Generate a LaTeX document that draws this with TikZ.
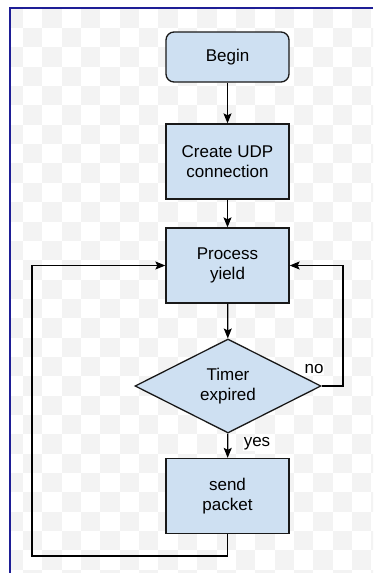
\documentclass[tikz,border=0pt]{standalone}
\usepackage{fontspec}
\setmainfont{Liberation Sans}
\usepackage{xcolor}
\usetikzlibrary{shapes.geometric,arrows.meta}

\definecolor{boxblue}{RGB}{206,224,242}
\definecolor{gridgray}{RGB}{243,243,243}
\definecolor{framenavy}{RGB}{30,30,150}

\tikzset{
  block/.style={draw=black!90, fill=boxblue, line width=1.3pt, minimum width=123pt,
    minimum height=75pt, align=center, inner sep=0pt},
  startbox/.style={block, rounded corners=8pt, minimum height=50pt},
  decision/.style={diamond, draw=black!90, fill=boxblue, line width=1.3pt, minimum width=186pt,
    minimum height=94pt, align=center, inner sep=0pt},
  arr/.style={line width=1.3pt, -{Stealth[length=10pt,width=8pt,inset=2pt]}},
  lbl/.style={fill=white, inner sep=1pt},
}

\begin{document}
\begin{tikzpicture}[x=1pt, y=-1pt, every node/.style={font=\fontsize{17}{20}\selectfont}]
                % sfondo
                \useasboundingbox (0,0) rectangle (373,573);
                \fill[white] (0,0) rectangle (373,573);
                \begin{scope}
                \clip (10,8) rectangle (373,573);
                \foreach \i in {0,...,19}
                  \foreach \j in {0,...,29}{
                    \pgfmathparse{int(mod(\i+\j,2))}
                    \ifnum\pgfmathresult=0
                      \fill[gridgray] ({3.65+\i*19.35},{8.65+\j*19.35}) rectangle ++(19.35,19.35);
                    \fi
                  }
                \end{scope}
                \draw[framenavy, line width=2pt] (10,573) -- (10,8) -- (373,8);

                % blocchi
                \node[startbox] (begin) at (227.5,57) {Begin};
                \node[block] (udp) at (227.5,161.5) {Create UDP\\connection};
                \node[block] (yield) at (227.5,265.5) {Process\\yield};
                \node[decision] (timer) at (228,386) {Timer\\expired};
                \node[block] (send) at (227.5,496) {send\\packet};

                % frecce
                \draw[arr] (begin) -- (udp);
                \draw[arr] (udp) -- (yield);
                \draw[arr] (yield) -- (timer);
                \draw[arr] (timer) -- (send);

                % ramo no
                \coordinate (noturn) at (343,386);
                \draw[arr] (timer.east) -- (noturn) |- (yield.east);
                \node[lbl] (nolbl) at (314,369) {no};

                % ramo yes
                \node[lbl] (yeslbl) at (257,444) {yes};

                % ritorno
                \coordinate (backturn) at (32,556);
                \draw[arr] (send.south) |- (backturn) |- (yield.west);

        \end{tikzpicture}
\end{document}
